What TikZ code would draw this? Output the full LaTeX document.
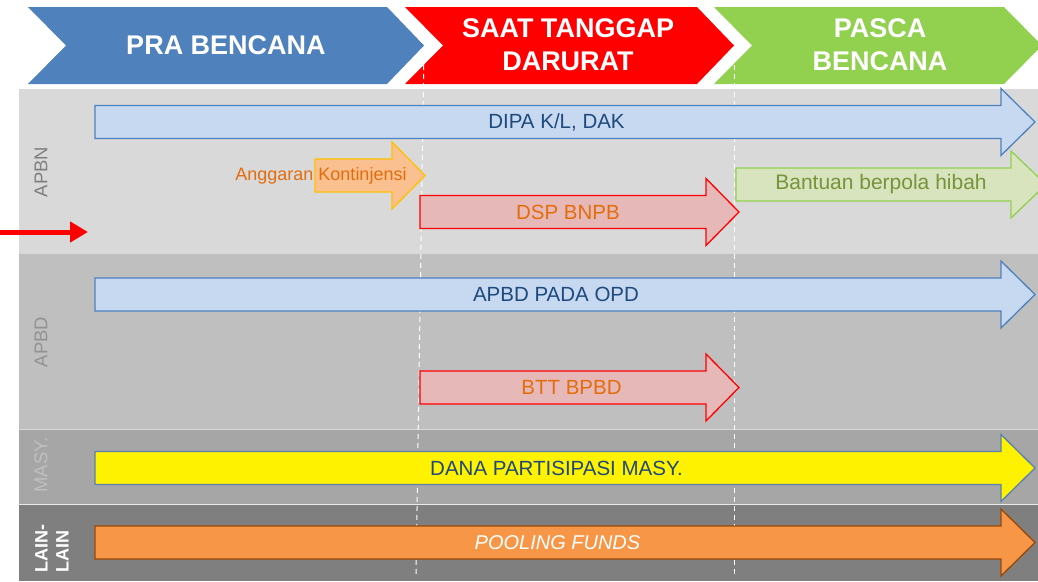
\documentclass[tikz,border=0pt]{standalone}
\usepackage{fontspec}
\setmainfont{Liberation Sans}
\usetikzlibrary{arrows.meta}
\definecolor{chblue}{HTML}{4F81BD}
\definecolor{chred}{HTML}{FF0000}
\definecolor{chgreen}{HTML}{92D050}
\definecolor{rowA}{HTML}{D9D9D9}
\definecolor{rowB}{HTML}{BFBFBF}
\definecolor{rowC}{HTML}{A6A6A6}
\definecolor{rowD}{HTML}{7F7F7F}
\definecolor{bluefill}{HTML}{C6D9F1}
\definecolor{blueline}{HTML}{4F81BD}
\definecolor{bluetext}{HTML}{1F497D}
\definecolor{pinkfill}{HTML}{E6B9B8}
\definecolor{orangetext}{HTML}{E46C0A}
\definecolor{peachfill}{HTML}{FAC090}
\definecolor{goldline}{HTML}{FFC000}
\definecolor{greenfill}{HTML}{D7E4BD}
\definecolor{greenline}{HTML}{92D050}
\definecolor{greentext}{HTML}{77933C}
\definecolor{orfill}{HTML}{F79646}
\definecolor{orline}{HTML}{984807}
\definecolor{labgray}{HTML}{7F7F7F}
\definecolor{lablight}{HTML}{BFBFBF}
\newcommand\fundarrow[5]{\draw[#1] (#2,#5-16.5) -- (#3,#5-16.5) -- (#3,#5-33.5) -- (#4,#5) -- (#3,#5+33.5) -- (#3,#5+16.5) -- (#2,#5+16.5) -- cycle;}
\newcommand\phasechev[5]{\fill[#1] (#2,7) -- (#3,7) -- (#4,45.5) -- (#3,84) -- (#2,84) -- (#5,45.5) -- cycle;}
\tikzset{
  phasetext/.style={text=white, font=\fontsize{27}{33}\selectfont\bfseries, align=center, inner sep=0},
  arrowtext/.style={font=\fontsize{20.5}{24}\selectfont, inner sep=0},
  rowlabel/.style={rotate=90, font=\fontsize{18.5}{21}\selectfont, inner sep=0},
  bluearrow/.style={fill=bluefill, draw=blueline, line width=1.3pt},
  pinkarrow/.style={fill=pinkfill, draw=chred, line width=1.3pt},
  peacharrow/.style={fill=peachfill, draw=goldline, line width=1.3pt},
  greenarrow/.style={fill=greenfill, draw=greenline, line width=1.3pt},
  yellowarrow/.style={fill=yellow, draw=blueline!80!gray, line width=1.3pt},
  orangearrow/.style={fill=orfill, draw=orline, line width=1.3pt},
  phaseline/.style={draw=white, line width=1pt, dash pattern=on 5pt off 4pt},
  pointer/.style={draw=red, line width=5pt, -{Triangle[length=18pt,width=20pt]}}
}
\begin{document}
\begin{tikzpicture}[x=1pt,y=-1pt]
\clip (0,0) rectangle (1038,581);
\fill[white] (0,0) rectangle (1038,581);
% phase chevrons
\phasechev{chblue}{28}{387}{424}{66}
\phasechev{chred}{405}{697}{734}{443}
\phasechev{chgreen}{714}{1004}{1042}{752}
\node[phasetext] (pra) at (226,45.5) {PRA BENCANA};
\node[phasetext] (saat) at (568,44.5) {SAAT TANGGAP\\DARURAT};
\node[phasetext] (pasca) at (880,44.5) {PASCA\\BENCANA};
% rows
\fill[rowA] (19,89) rectangle (1038,253.5);
\fill[rowB] (19,253.5) rectangle (1038,429);
\fill[rowC] (19,429) rectangle (1038,504);
\fill[rowD] (19,504) rectangle (1038,581);
\draw[white!40!rowB, line width=0.6pt] (19,429) -- (1038,429);
\draw[white!75!rowC, line width=1.2pt] (19,504.5) -- (1038,504.5);
% row labels
\node[rowlabel, text=labgray] (apbn) at (41,172) {APBN};
\node[rowlabel, text=labgray!85!white] (apbd) at (41,342) {APBD};
\node[rowlabel, text=lablight] (masy) at (41,465) {MASY.};
\node[rowlabel, text=white, font=\fontsize{18}{21}\selectfont\bfseries, align=left] (lain) at (52,548.5) {LAIN-\\LAIN};
% phase boundaries
\coordinate (d1t) at (424,47); \coordinate (d1b) at (416,575);
\coordinate (d2t) at (734,47); \coordinate (d2b) at (734,575);
\draw[phaseline] (d1t) -- (d1b);
\draw[phaseline] (d2t) -- (d2b);
% pointer
\coordinate (pa) at (0,232); \coordinate (pb) at (88,232);
\draw[pointer] (pa) -- (pb);
% funding arrows
\fundarrow{bluearrow}{95}{1001}{1035}{122}
\node[arrowtext, text=bluetext] (dipa) at (556.5,122) {DIPA K/L, DAK};
\fundarrow{peacharrow}{315}{392}{425}{175.5}
\node[arrowtext, text=orangetext, font=\fontsize{18}{22}\selectfont] (kont) at (321,175.5) {Anggaran Kontinjensi};
\fundarrow{pinkarrow}{420}{706}{739}{212}
\node[arrowtext, text=orangetext] (dsp) at (568,212) {DSP BNPB};
\fundarrow{greenarrow}{736}{1011}{1046}{184.5}
\node[arrowtext, text=greentext, font=\fontsize{21}{24}\selectfont] (hibah) at (881,184.5) {Bantuan berpola hibah};
\fundarrow{bluearrow}{95}{1001}{1035}{294.5}
\node[arrowtext, text=bluetext] (opd) at (556,294.5) {APBD PADA OPD};
\fundarrow{pinkarrow}{420}{706}{739}{387.5}
\node[arrowtext, text=orangetext] (btt) at (571.5,387.5) {BTT BPBD};
\fundarrow{yellowarrow}{95}{1001}{1035}{468}
\node[arrowtext, text=bluetext] (dana) at (556.5,468) {DANA PARTISIPASI MASY.};
\fundarrow{orangearrow}{95}{1001}{1035}{542.5}
\node[arrowtext, text=white, font=\fontsize{20}{24}\selectfont\itshape] (pool) at (557.5,542.5) {POOLING FUNDS};
\end{tikzpicture}
\end{document}
